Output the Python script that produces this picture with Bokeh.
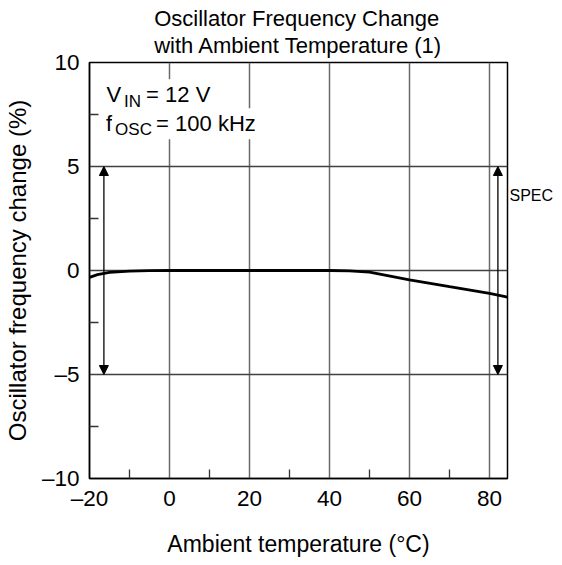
from bokeh.plotting import figure
from bokeh.models import FixedTicker, Label, Arrow, NormalHead, Title, Range1d, LinearAxis
from bokeh.embed import file_html
from bokeh.resources import INLINE

# ---- data ----
temperature = [-20, -18, -15, -10, -5, 0, 10, 20, 30, 40, 45, 50, 60, 70, 80, 84.5]
freq_change = [-0.33, -0.2, -0.09, -0.03, -0.01, 0, 0, 0, 0, 0, -0.02, -0.08, -0.45, -0.78, -1.1, -1.28]

x_major = [-20, 0, 20, 40, 60, 80]
x_minor = [-10, 10, 30, 50, 70]
y_major = [-10, -5, 0, 5, 10]
y_minor = [-7.5, -2.5, 2.5, 7.5]
y_labels = {-10: "\u201310", -5: "\u20135", 0: "0", 5: "5", 10: "10"}
x_labels = {-20: "\u201320", 0: "0", 20: "20", 40: "40", 60: "60", 80: "80"}

spec_high = 5
spec_low = -5
spec_arrow_x = [-16.4, 82.1]
spec_text = "SPEC"
spec_text_y = 3.6

cond_x = -16.6
cond_line1_y = 8.45
cond_line2_y = 7.06

title_text = "Oscillator Frequency Change\nwith Ambient Temperature (1)"

FONT = "Liberation Sans"

p = figure(frame_width=418, frame_height=416, output_backend="svg", toolbar_location=None,
           x_range=Range1d(-20, 84.5), y_range=Range1d(-10, 10),
           min_border_left=84, min_border_right=20, min_border_top=62, min_border_bottom=60)

p.background_fill_color = "white"
p.border_fill_color = "white"
p.outline_line_color = "black"
p.outline_line_width = 1.5

# axes
p.xaxis.ticker = FixedTicker(ticks=x_major, minor_ticks=x_minor)
p.yaxis.ticker = FixedTicker(ticks=y_major, minor_ticks=y_minor)
p.xaxis.major_label_overrides = x_labels
p.yaxis.major_label_overrides = y_labels
for ax in (p.xaxis, p.yaxis):
    ax.axis_line_color = "black"
    ax.axis_line_width = 1.5
    ax.major_tick_in = 0
    ax.major_tick_out = 0
    ax.minor_tick_in = 9
    ax.minor_tick_out = 0
    ax.minor_tick_line_color = "#333333"
    ax.minor_tick_line_width = 1.3
    ax.major_label_text_font = FONT
    ax.major_label_text_font_size = "22.5px"
    ax.major_label_text_color = "black"
    ax.axis_label_text_font = FONT
    ax.axis_label_text_font_style = "normal"
    ax.axis_label_text_color = "black"
p.xaxis.axis_label_text_font_size = "23px"
p.yaxis.axis_label_text_font_size = "24px"
p.xaxis.major_label_standoff = 7
p.yaxis.major_label_standoff = 10
p.xaxis.axis_label = "Ambient temperature (\u00b0C)"
p.yaxis.axis_label = "Oscillator frequency change (%)"
p.xaxis.axis_label_standoff = 17
p.yaxis.axis_label_standoff = 8

# right axis used only for the SPEC tag
spec_axis = LinearAxis(ticker=FixedTicker(ticks=[spec_text_y]),
                       major_label_overrides={spec_text_y: spec_text})
spec_axis.axis_line_color = None
spec_axis.major_tick_line_color = None
spec_axis.minor_tick_line_color = None
spec_axis.major_tick_in = 0
spec_axis.major_tick_out = 0
spec_axis.major_label_standoff = 2
spec_axis.major_label_text_font = FONT
spec_axis.major_label_text_font_size = "16px"
spec_axis.major_label_text_color = "black"
p.add_layout(spec_axis, "right")

# grid
p.xgrid.ticker = FixedTicker(ticks=x_major)
p.ygrid.ticker = FixedTicker(ticks=y_major)
p.xgrid.grid_line_color = "#6a6a6a"
p.ygrid.grid_line_color = "#404040"
p.xgrid.grid_line_width = 1.5
p.ygrid.grid_line_width = 1.3

# title
p.title = Title(text=title_text, align="center", vertical_align="top", text_font=FONT,
                text_font_size="22px", text_font_style="normal", text_color="black",
                text_line_height=1.1, standoff=4)

# curve
p.line(temperature, freq_change, line_color="black", line_width=2.8)

# spec arrows
for ax_x in spec_arrow_x:
    p.add_layout(Arrow(x_start=ax_x, y_start=spec_low, x_end=ax_x, y_end=spec_high,
                       line_color="black", line_width=1.3,
                       start=NormalHead(size=9, fill_color="black", line_color="black"),
                       end=NormalHead(size=9, fill_color="black", line_color="black")))

# conditions text
def lab(x, y, text, size, xo=0, yo=0):
    return Label(x=x, y=y, x_offset=xo, y_offset=yo, text=text, text_font=FONT,
                 text_font_size=size, text_color="black", text_baseline="alphabetic",
                 background_fill_color="white", padding=3)

p.add_layout(lab(cond_x, cond_line1_y, "V", "22px", 0.5, 0))
p.add_layout(lab(cond_x, cond_line1_y, "IN", "17px", 18, -6.5))
p.add_layout(lab(cond_x, cond_line1_y, "= 12 V", "22px", 40, 0))
p.add_layout(lab(cond_x, cond_line2_y, "f", "22px", 0, 0))
p.add_layout(lab(cond_x, cond_line2_y, "OSC", "17px", 9, -6))
p.add_layout(lab(cond_x, cond_line2_y, "= 100 kHz", "22px", 50, 0))

open("out.html", "w").write(file_html(p, INLINE))
